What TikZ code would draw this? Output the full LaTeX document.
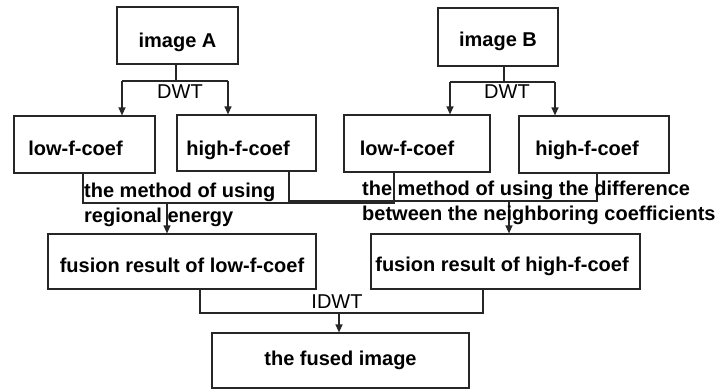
\documentclass[tikz,border=0pt]{standalone}
\usepackage{fontspec}
\setmainfont{Liberation Sans}
\usetikzlibrary{arrows.meta}
\begin{document}
\begin{tikzpicture}[x=1pt,y=-1pt,
  every node/.style={font=\fontsize{20}{25}\selectfont},
  box/.style={draw=black!85, line width=1.2pt, inner sep=0pt, text depth=4pt, font=\fontsize{20}{25}\selectfont\bfseries},
  conn/.style={draw=black!85, line width=1.2pt},
  arr/.style={conn, -{Triangle[width=7pt,length=8pt]}},
  lbl/.style={inner sep=0pt, font=\fontsize{20}{25}\selectfont},
  note/.style={inner sep=0pt, align=left, anchor=west, font=\fontsize{20}{25}\selectfont\bfseries}]
\useasboundingbox (0,0) rectangle (717,389);
\fill[white] (0,0) rectangle (717,389);

% boxes
\node[box, text height=28pt, minimum width=121pt, minimum height=57pt] (imgA) at (177.5,35.5) {image A};
\node[box, text height=22pt, minimum width=120pt, minimum height=58pt] (imgB) at (498,37) {image B};
\node[box, text height=25pt, minimum width=141pt, minimum height=57pt] (lowA) at (84.5,144.5) {\hspace*{-18pt}low-f-coef};
\node[box, text height=28pt, minimum width=139pt, minimum height=56pt] (hiA) at (246.5,143) {\hspace*{-17pt}high-f-coef};
\node[box, text height=27pt, minimum width=146pt, minimum height=57pt] (lowB) at (417,143.5) {\hspace*{-20pt}low-f-coef};
\node[box, text height=25pt, minimum width=150pt, minimum height=57pt] (hiB) at (594,144.5) {\hspace*{-14pt}high-f-coef};
\node[box, text height=26pt, minimum width=268pt, minimum height=55pt] (fusL) at (182,261.5) {fusion result of low-f-coef};
\node[box, text height=24pt, minimum width=269pt, minimum height=55pt] (fusH) at (505.5,261.5) {\hspace*{-7pt}fusion result of high-f-coef};
\node[box, text height=13pt, minimum width=257pt, minimum height=55pt] (fused) at (340.5,360.5) {the fused image};

% DWT of image A
\coordinate (dA) at (176,81);
\coordinate (dAl) at (122,81);
\coordinate (dAr) at (228,81);
\draw[conn] (imgA.south -| dA) -- (dA);
\draw[conn] (dAl) -- (dAr);
\draw[arr] (dAl) -- (dAl |- lowA.north);
\draw[arr] (dAr) -- (dAr |- hiA.north);
\node[lbl] (dwtA) at (180,92) {DWT};

% DWT of image B
\coordinate (dB) at (504,82);
\coordinate (dBl) at (450,82);
\coordinate (dBr) at (555,82);
\draw[conn] (imgB.south -| dB) -- (dB);
\draw[conn] (dBl) -- (dBr);
\draw[arr] (dBl) -- (dBl |- lowB.north);
\draw[arr] (dBr) -- (dBr |- hiB.north);
\node[lbl] (dwtB) at (507,92) {DWT};

% low-frequency fusion
\coordinate (mL1) at (83,203);
\coordinate (mL2) at (394,203);
\coordinate (mLa) at (167,203);
\draw[conn] (lowA.south -| mL1) -- (mL1) -- (mL2) -- (lowB.south -| mL2);
\draw[arr] (mLa) -- (mLa |- fusL.north);
\node[note] (noteL) at (84,205) {the method of using\\regional energy};

% high-frequency fusion
\coordinate (mH1) at (289,201);
\coordinate (mH2) at (597,201);
\coordinate (mHa) at (509,201);
\draw[conn] (hiA.south -| mH1) -- (mH1) -- (mH2) -- (hiB.south -| mH2);
\draw[arr] (mHa) -- (mHa |- fusH.north);
\node[note] (noteH) at (362,202.5) {the method of using the difference\\between the neighboring coefficients};

% IDWT
\coordinate (i1) at (200,313);
\coordinate (i2) at (483,313);
\coordinate (ia) at (339,313);
\draw[conn] (fusL.south -| i1) -- (i1) -- (i2) -- (fusH.south -| i2);
\draw[arr] (ia) -- (ia |- fused.north);
\node[lbl] (idwt) at (337,302) {IDWT};
\end{tikzpicture}
\end{document}
